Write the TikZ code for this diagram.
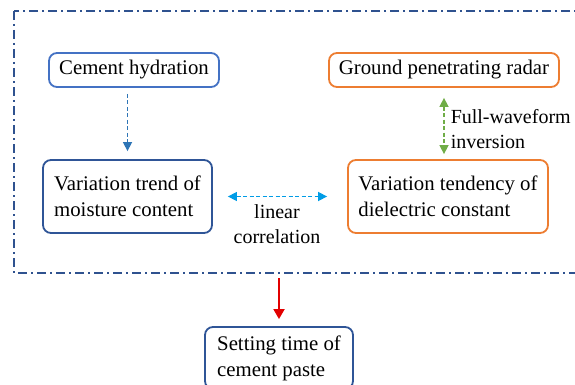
\documentclass[tikz,border=0pt]{standalone}
\usepackage{fontspec}
\setmainfont{Liberation Serif}
\usetikzlibrary{arrows.meta}

\definecolor{framenavy}{RGB}{47,82,143}
\definecolor{boxnavy}{RGB}{47,85,151}
\definecolor{hydrblue}{RGB}{68,114,196}
\definecolor{gprorange}{RGB}{237,125,49}
\definecolor{arrblue}{RGB}{46,117,182}
\definecolor{corrblue}{RGB}{0,156,230}
\definecolor{fwigreen}{RGB}{112,173,71}
\definecolor{setred}{RGB}{226,0,0}

\begin{document}
\begin{tikzpicture}[x=1pt, y=-1pt, >={Triangle[length=9pt,width=9pt]},
    box/.style={draw, rounded corners=8pt, line width=1.8pt, align=left,
        inner sep=0pt, font=\fontsize{20.8}{26}\selectfont},
    lbl/.style={inner sep=0pt, font=\fontsize{20}{25}\selectfont},
    dasharr/.style={line width=1.5pt, dash pattern=on 4pt off 2.5pt}]
    \clip (0,0) rectangle (575,385);

    \draw[framenavy, line width=1.4pt, dash pattern=on 9pt off 4pt on 2pt off 4pt]
        (14,11) rectangle (600,273);
    \coordinate (fbot) at (279,273);

    \node[box, draw=hydrblue, minimum width=170pt, minimum height=34pt] (hydr) at (134,70) {Cement hydration};
    \node[box, draw=gprorange, minimum width=230pt, minimum height=34pt] (gpr) at (444,70) {Ground penetrating radar};
    \node[box, draw=boxnavy, minimum width=169pt, minimum height=73pt] (moist) at (127.5,196.5)
        {Variation trend of\\moisture content};
    \node[box, draw=gprorange, minimum width=200pt, minimum height=73pt] (diel) at (448,196.5)
        {Variation tendency of\\dielectric constant};
    \node[box, draw=boxnavy, minimum width=148pt, minimum height=62pt] (setting) at (279,358)
        {Setting time of\\cement paste};

    \draw[->, dasharr, arrblue, shorten <=6pt, shorten >=8pt] (hydr.south -| moist.north) -- (moist.north);
    \draw[<->, dasharr, fwigreen, shorten <=10pt, shorten >=5pt] (gpr.south) -- (gpr.south |- diel.north)
        node[lbl, pos=0.58, right=6pt, align=left, text=black] (fwi) {Full-waveform\\inversion};
    \draw[<->, dasharr, corrblue, shorten <=15pt, shorten >=20pt] (moist.east) -- (diel.west)
        node[lbl, midway, yshift=-28pt, xshift=-3pt, align=center, text=black] (corr) {linear\\correlation};
    \draw[->, line width=1.8pt, setred, >={Triangle[length=10pt,width=11pt]}, shorten <=5pt, shorten >=7pt]
        (fbot) -- (setting.north);
\end{tikzpicture}
\end{document}
